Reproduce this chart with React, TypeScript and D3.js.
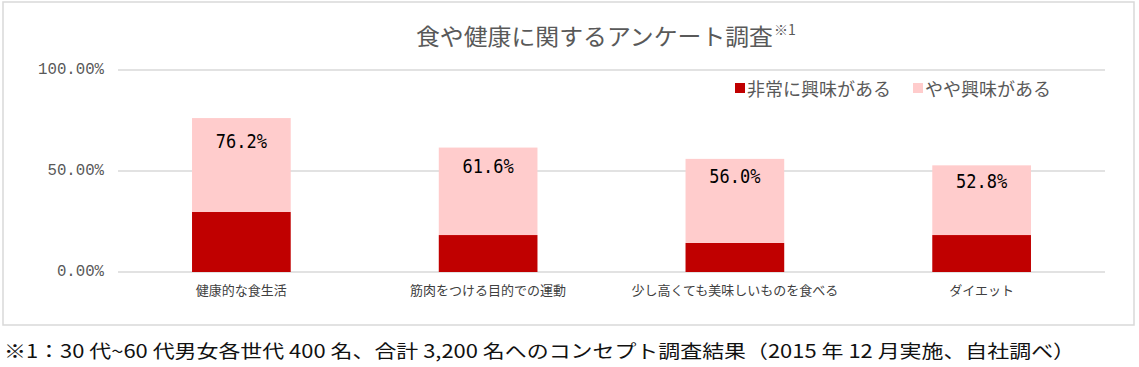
import React from "react";
import * as d3 from "d3";

const categories = [
  "健康的な食生活",
  "筋肉をつける目的での運動",
  "少し高くても美味しいものを食べる",
  "ダイエット",
];
const seriesNames = ["非常に興味がある", "やや興味がある"];
const veryInterested = [29.7, 18.3, 14.4, 18.3];
const somewhatInterested = [46.5, 43.3, 41.6, 34.5];
const totalLabels = ["76.2%", "61.6%", "56.0%", "52.8%"];
const yTicks = [0, 50, 100];
const yTickLabels = ["0.00%", "50.00%", "100.00%"];
const colors = ["#C00000", "#FFCCCC"];

const W = 1139;
const H = 367;
const plot = { left: 118, right: 1105, top: 70, bottom: 272 };

export default function App() {
  const x = d3
    .scaleBand<string>()
    .domain(categories)
    .range([plot.left, plot.right])
    .paddingInner(0.6)
    .paddingOuter(0.3);
  const y = d3.scaleLinear().domain([0, 100]).range([plot.bottom, plot.top]);

  const rows = categories.map((c, i) => ({
    cat: c,
    a: veryInterested[i],
    b: somewhatInterested[i],
  }));
  const stack = d3.stack<any>().keys(["a", "b"])(rows);

  const gray = "#595959";
  const jp = "'Noto Sans CJK JP', 'Noto Sans', sans-serif";
  const mono = "'Liberation Mono', 'DejaVu Sans Mono', monospace";

  return (
    <svg
      width={W}
      height={H}
      style={{ position: "absolute", left: 0, top: 0, background: "#fff" }}
    >
      <rect x={3} y={2} width={1131} height={323} fill="#fff" stroke="#D9D9D9" strokeWidth={1.5} />
      {/* title */}
      <text x={416} y={35} fontFamily={jp} fontSize={23} fill={gray} dominantBaseline="central" textLength={357} lengthAdjust="spacingAndGlyphs">
        食や健康に関するアンケート調査
      </text>
      <text x={774} y={29} fontFamily={jp} fontSize={14} fill={gray} dominantBaseline="central">
        ※1
      </text>
      {/* gridlines & ticks */}
      {yTicks.map((t, i) => (
        <g key={t}>
          <line x1={plot.left} x2={plot.right} y1={y(t)} y2={y(t)} stroke="#D9D9D9" strokeWidth={1.5} />
          <text x={104} y={y(t)} textAnchor="end" dominantBaseline="central" fontFamily={mono} fontSize={15.7} fill={gray}>
            {yTickLabels[i]}
          </text>
        </g>
      ))}
      {/* bars */}
      {stack.map((s, si) => (
        <g key={si} fill={colors[si]}>
          {s.map((d, i) => (
            <rect
              key={i}
              x={x(categories[i])}
              width={x.bandwidth()}
              y={y(d[1])}
              height={y(d[0]) - y(d[1])}
            />
          ))}
        </g>
      ))}
      {/* value labels */}
      {categories.map((c, i) => {
        const total = veryInterested[i] + somewhatInterested[i];
        const cx = (x(c) as number) + x.bandwidth() / 2;
        const cy = y(total * 0.85);
        return (
          <text
            key={c}
            x={cx}
            y={cy}
            textAnchor="middle"
            dominantBaseline="central"
            fontFamily="'DejaVu Sans Mono', monospace"
            fontSize={17}
            fill="#000"
            transform={`translate(${cx},${cy}) scale(1,1.15) translate(${-cx},${-cy})`}
          >
            {totalLabels[i]}
          </text>
        );
      })}
      {/* category labels */}
      {categories.map((c) => (
        <text
          key={c}
          x={(x(c) as number) + x.bandwidth() / 2}
          y={289}
          textAnchor="middle"
          dominantBaseline="central"
          fontFamily={jp}
          fontSize={13}
          fill="#404040"
        >
          {c}
        </text>
      ))}
      {/* legend */}
      {seriesNames.map((n, i) => {
        const lx = [735, 913][i];
        return (
          <g key={n}>
            <rect x={lx} y={83} width={10} height={10} fill={colors[i]} />
            <text x={lx + 12} y={88} dominantBaseline="central" fontFamily={jp} fontSize={18} fill={gray}>
              {n}
            </text>
          </g>
        );
      })}
      {/* footnote */}
      <text x={4} y={350} dominantBaseline="central" fontFamily={jp} fontSize={18.5} fontWeight={400} fill="#111" textLength={1071} lengthAdjust="spacingAndGlyphs">
        ※1：30 代~60 代男女各世代 400 名、合計 3,200 名へのコンセプト調査結果（2015 年 12 月実施、自社調べ）
      </text>
    </svg>
  );
}
